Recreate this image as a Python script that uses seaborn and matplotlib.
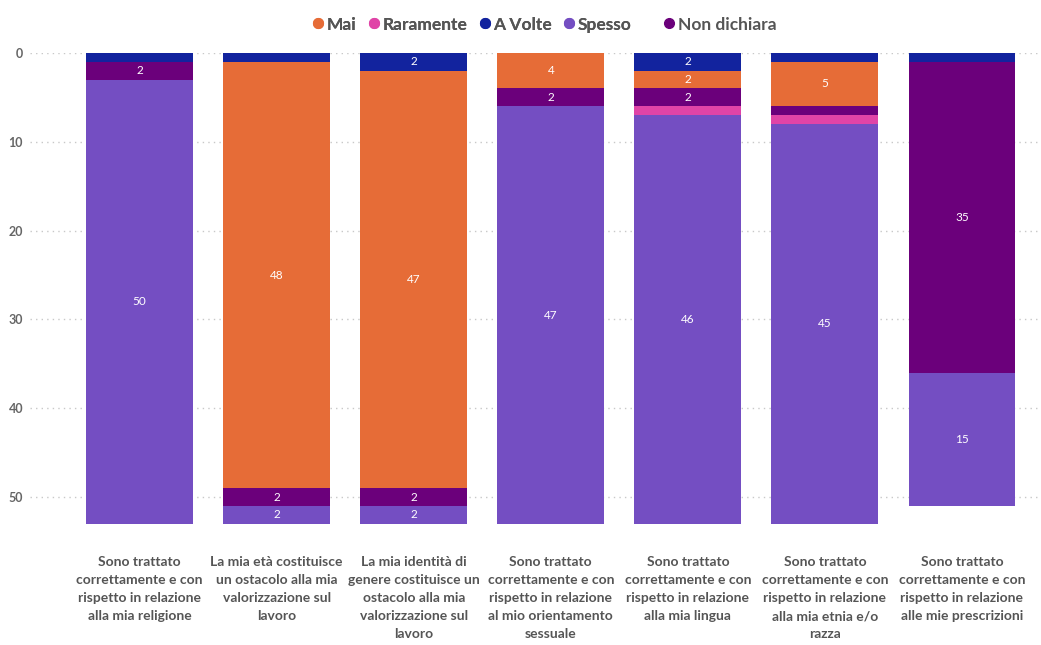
import numpy as np
import pandas as pd
import seaborn as sns
import matplotlib.pyplot as plt
from matplotlib.lines import Line2D

categories = [
    "Sono trattato\ncorrettamente e con\nrispetto in relazione\nalla mia religione",
    "La mia età costituisce\nun ostacolo alla mia\nvalorizzazione sul\nlavoro",
    "La mia identità di\ngenere costituisce un\nostacolo alla mia\nvalorizzazione sul\nlavoro",
    "Sono trattato\ncorrettamente e con\nrispetto in relazione\nal mio orientamento\nsessuale",
    "Sono trattato\ncorrettamente e con\nrispetto in relazione\nalla mia lingua",
    "Sono trattato\ncorrettamente e con\nrispetto in relazione\nalla mia etnia e/o\nrazza",
    "Sono trattato\ncorrettamente e con\nrispetto in relazione\nalle mie prescrizioni",
]

# Series in stacking order (top of the inverted axis first)
a_volte = [1, 1, 2, 0, 2, 1, 1]
mai = [0, 48, 47, 4, 2, 5, 0]
non_dichiara = [2, 2, 2, 2, 2, 1, 35]
raramente = [0, 0, 0, 0, 1, 1, 0]
spesso = [50, 2, 2, 47, 46, 45, 15]

stack_names = ["A Volte", "Mai", "Non dichiara", "Raramente", "Spesso"]
stack_values = [a_volte, mai, non_dichiara, raramente, spesso]
palette = {
    "Mai": "#E66C37",
    "Raramente": "#E044A7",
    "A Volte": "#12239E",
    "Spesso": "#744EC2",
    "Non dichiara": "#6B007B",
}
legend_main = ["Mai", "Raramente", "A Volte", "Spesso"]
legend_extra = ["Non dichiara"]
y_ticks = [0, 10, 20, 30, 40, 50]

sns.set_theme(style="white")
plt.rcParams["font.family"] = ["Lato", "DejaVu Sans"]

fig = plt.figure(figsize=(10.41, 6.45), dpi=100)
ax = fig.add_axes([0.0288, 0.181, 0.971, 0.737])

cum = np.cumsum(np.array(stack_values), axis=0)

# Overlapping cumulative bars: draw the tallest first, then each shorter one on top
for k in reversed(range(len(stack_names))):
    df = pd.DataFrame({"domanda": categories, "valore": cum[k]})
    sns.barplot(data=df, x="domanda", y="valore", color=palette[stack_names[k]],
                saturation=1, width=0.78, linewidth=0, ax=ax, zorder=3)

# Segment value labels
for k, name in enumerate(stack_names):
    for i, v in enumerate(stack_values[k]):
        if v >= 2:
            ax.text(i, cum[k][i] - v / 2, str(v), ha="center", va="center",
                    color="white", fontsize=8.5, zorder=5)

ax.set_ylim(53.5, 0)
ax.set_xlim(-0.8, 6.575)
ax.set_yticks(y_ticks)
ax.set_yticklabels([str(t) for t in y_ticks], fontsize=9, color="#666666",
                   fontweight="bold")
ax.yaxis.grid(True, color="#c8c8c8", linestyle=(0, (1, 3)), linewidth=1, zorder=0)
ax.xaxis.grid(False)
ax.set_axisbelow(True)
ax.tick_params(axis="y", length=0, pad=5)
ax.tick_params(axis="x", length=0, pad=20)
for lbl in ax.get_xticklabels():
    lbl.set_fontsize(10)
    lbl.set_fontweight("bold")
    lbl.set_color("#555555")
    lbl.set_linespacing(1.6)
ax.set_xlabel("")
ax.set_ylabel("")
for s in ax.spines.values():
    s.set_visible(False)


def legend_handles(names):
    return [Line2D([0], [0], marker="o", linestyle="", markersize=7,
                   markerfacecolor=palette[n], markeredgecolor=palette[n])
            for n in names]


legend_style = dict(loc="center", frameon=False, handletextpad=0.0,
                    columnspacing=0.5, handlelength=1.0,
                    prop={"size": 12.5, "weight": "bold"}, labelcolor="#555555")
leg1 = fig.legend(legend_handles(legend_main), legend_main,
                  bbox_to_anchor=(0.452, 0.962), ncol=4, **legend_style)
fig.add_artist(leg1)
fig.legend(legend_handles(legend_extra), legend_extra,
           bbox_to_anchor=(0.690, 0.962), ncol=1, **legend_style)

fig.savefig("out.png", dpi=100)
